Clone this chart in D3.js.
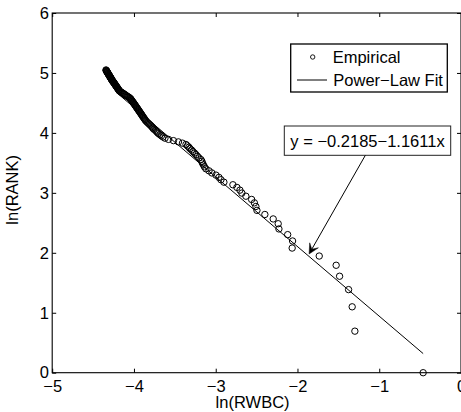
<!DOCTYPE html>
<html lang="en">
<head>
<meta charset="utf-8">
<script src="https://d3js.org/d3.v7.min.js"></script>
<title>ln(RANK) vs ln(RWBC)</title>
<style>
  body { margin: 0; background: #fff; }
  svg text { font-family: "Liberation Sans", Arial, Helvetica, sans-serif; font-size: 16.5px; fill: #000; }
</style>
</head>
<body>
<div id="chart"></div>
<script>
// empirical points: ln(RWBC) on x, ln(RANK) on y (rank 1 .. 156)
var lnRWBC = [
  -0.463, -1.298, -1.331, -1.375, -1.485, -1.527, -1.734, -2.065, -2.060, -2.120,
  -2.227, -2.236, -2.297, -2.399, -2.496, -2.509, -2.527, -2.561, -2.631, -2.680,
  -2.704, -2.741, -2.790, -2.900, -2.936, -2.961, -2.997, -3.047, -3.082, -3.120,
  -3.138, -3.150, -3.163, -3.169, -3.181, -3.205, -3.224, -3.242, -3.260, -3.279,
  -3.295, -3.315, -3.328, -3.346, -3.364, -3.407, -3.456, -3.517, -3.578, -3.621,
  -3.645, -3.664, -3.682, -3.700, -3.713, -3.725, -3.737, -3.756, -3.768, -3.774,
  -3.787, -3.798, -3.811, -3.823, -3.835, -3.847, -3.857, -3.864, -3.872, -3.879,
  -3.886, -3.894, -3.900, -3.906, -3.913, -3.919, -3.927, -3.933, -3.939, -3.946,
  -3.952, -3.958, -3.964, -3.971, -3.976, -3.982, -3.988, -3.994, -4.000, -4.006,
  -4.011, -4.017, -4.023, -4.029, -4.034, -4.039, -4.045, -4.053, -4.064, -4.075,
  -4.086, -4.097, -4.108, -4.116, -4.127, -4.138, -4.149, -4.159, -4.168, -4.178,
  -4.183, -4.186, -4.191, -4.196, -4.200, -4.204, -4.208, -4.213, -4.217, -4.221,
  -4.225, -4.230, -4.233, -4.238, -4.241, -4.246, -4.249, -4.254, -4.258, -4.262,
  -4.267, -4.269, -4.273, -4.276, -4.279, -4.282, -4.286, -4.289, -4.292, -4.296,
  -4.298, -4.301, -4.304, -4.308, -4.311, -4.314, -4.317, -4.319, -4.323, -4.325,
  -4.329, -4.331, -4.334, -4.337, -4.340, -4.342
];
var lnRank = [
  0.000, 0.693, 1.099, 1.386, 1.609, 1.792, 1.946, 2.079, 2.197, 2.303,
  2.398, 2.485, 2.565, 2.639, 2.708, 2.773, 2.833, 2.890, 2.944, 2.996,
  3.045, 3.091, 3.135, 3.178, 3.219, 3.258, 3.296, 3.332, 3.367, 3.401,
  3.434, 3.466, 3.497, 3.526, 3.555, 3.584, 3.611, 3.638, 3.664, 3.689,
  3.714, 3.738, 3.761, 3.784, 3.807, 3.829, 3.850, 3.871, 3.892, 3.912,
  3.932, 3.951, 3.970, 3.989, 4.007, 4.025, 4.043, 4.060, 4.078, 4.094,
  4.111, 4.127, 4.143, 4.159, 4.174, 4.190, 4.205, 4.220, 4.234, 4.248,
  4.263, 4.277, 4.290, 4.304, 4.317, 4.331, 4.344, 4.357, 4.369, 4.382,
  4.394, 4.407, 4.419, 4.431, 4.443, 4.454, 4.466, 4.477, 4.489, 4.500,
  4.511, 4.522, 4.533, 4.543, 4.554, 4.564, 4.575, 4.585, 4.595, 4.605,
  4.615, 4.625, 4.635, 4.644, 4.654, 4.663, 4.673, 4.682, 4.691, 4.700,
  4.710, 4.718, 4.727, 4.736, 4.745, 4.754, 4.762, 4.771, 4.779, 4.787,
  4.796, 4.804, 4.812, 4.820, 4.828, 4.836, 4.844, 4.852, 4.860, 4.868,
  4.875, 4.883, 4.890, 4.898, 4.905, 4.913, 4.920, 4.927, 4.934, 4.942,
  4.949, 4.956, 4.963, 4.970, 4.977, 4.984, 4.990, 4.997, 5.004, 5.011,
  5.017, 5.024, 5.030, 5.037, 5.043, 5.050
];

// power-law fit line end points
var fitX = [-4.2, -0.463];
var fitY = [4.658, 0.319];

var xTicks = [-5, -4, -3, -2, -1, 0];
var yTicks = [0, 1, 2, 3, 4, 5, 6];

var fitLabel = "y = \u22120.2185\u22121.1611x";
// arrow from the label box down to the fit line (data coords)
var arrowFrom = [-1.17, 3.626];
var arrowTo = [-1.858, 1.98];

var W = 461, H = 412;
var pL = 52.2, pR = 461, pT = 13, pB = 372.7;

var svg = d3.select("#chart").append("svg")
    .attr("width", W)
    .attr("height", H);

var x = d3.scaleLinear().domain([-5, 0]).range([pL, pR]);
var y = d3.scaleLinear().domain([0, 6]).range([pB, pT]);

var fmt = function(d) { return d3.format("d")(d).replace("-", "\u2212"); };

// axes, ticks pointing inward
svg.append("g")
    .attr("transform", "translate(0," + pB + ")")
    .call(d3.axisBottom(x).tickValues(xTicks).tickSizeInner(-4).tickSizeOuter(0).tickPadding(7.6).tickFormat(fmt));
svg.append("g")
    .attr("transform", "translate(" + pL + ",0)")
    .call(d3.axisLeft(y).tickValues(yTicks).tickSizeInner(-4).tickSizeOuter(0).tickPadding(3.2).tickFormat(fmt));
svg.append("g")
    .attr("transform", "translate(0," + pT + ")")
    .call(d3.axisTop(x).tickValues(xTicks).tickSizeInner(-4).tickSizeOuter(0).tickFormat(""));
svg.append("g")
    .attr("transform", "translate(" + pR + ",0)")
    .call(d3.axisRight(y).tickValues(yTicks).tickSizeInner(-4).tickSizeOuter(0).tickFormat(""));

svg.selectAll(".domain").remove();
svg.selectAll(".tick line").attr("stroke", "#000");
svg.selectAll(".tick text").attr("font-size", "16.5px").attr("font-family", "Liberation Sans, Arial, sans-serif");

svg.append("rect")
    .attr("x", pL).attr("y", pT)
    .attr("width", pR - pL).attr("height", pB - pT)
    .attr("fill", "none").attr("stroke", "#000").attr("stroke-width", 1.1);

// fit line
svg.append("line")
    .attr("x1", x(fitX[0])).attr("y1", y(fitY[0]))
    .attr("x2", x(fitX[1])).attr("y2", y(fitY[1]))
    .attr("stroke", "#000").attr("stroke-width", 1);

// empirical points
svg.append("g").selectAll("circle")
    .data(d3.range(lnRWBC.length))
    .enter().append("circle")
    .attr("cx", function(i) { return x(lnRWBC[i]); })
    .attr("cy", function(i) { return y(lnRank[i]); })
    .attr("r", 3.2)
    .attr("fill", "none")
    .attr("stroke", "#000")
    .attr("stroke-width", 1);

// axis labels
svg.append("text")
    .attr("x", (pL + pR) / 2 - 4).attr("y", 408)
    .attr("text-anchor", "middle")
    .text("ln(RWBC)");
svg.append("text")
    .attr("transform", "translate(18," + ((pT + pB) / 2 - 3) + ") rotate(-90)")
    .attr("text-anchor", "middle")
    .text("ln(RANK)");

// legend
var lg = svg.append("g");
lg.append("rect")
    .attr("x", 290.7).attr("y", 44).attr("width", 156.6).attr("height", 48)
    .attr("fill", "#fff").attr("stroke", "#000").attr("stroke-width", 1.3);
lg.append("circle")
    .attr("cx", 312.7).attr("cy", 57).attr("r", 2.2)
    .attr("fill", "none").attr("stroke", "#000").attr("stroke-width", 0.9);
lg.append("text").attr("x", 332.7).attr("y", 63).text("Empirical");
lg.append("line")
    .attr("x1", 297).attr("x2", 327).attr("y1", 80).attr("y2", 80)
    .attr("stroke", "#000").attr("stroke-width", 1);
lg.append("text").attr("x", 333.3).attr("y", 86).text("Power\u2212Law Fit");

// annotation box + arrow
svg.append("rect")
    .attr("x", 284.3).attr("y", 126).attr("width", 166.4).attr("height", 29.3)
    .attr("fill", "#fff").attr("stroke", "#222").attr("stroke-width", 1);
svg.append("text")
    .attr("x", 367.5).attr("y", 147)
    .attr("text-anchor", "middle")
    .text(fitLabel);

var ax0 = x(arrowFrom[0]), ay0 = y(arrowFrom[1]);
var ax1 = x(arrowTo[0]), ay1 = y(arrowTo[1]);
var ang = Math.atan2(ay1 - ay0, ax1 - ax0);
var hl = 10, hw = 5;
var ux = Math.cos(ang), uy = Math.sin(ang);
svg.append("line")
    .attr("x1", ax0).attr("y1", ay0)
    .attr("x2", ax1 - ux * 5).attr("y2", ay1 - uy * 5)
    .attr("stroke", "#000").attr("stroke-width", 1);
var head = [
  [ax1, ay1],
  [ax1 - ux * hl - uy * hw, ay1 - uy * hl + ux * hw],
  [ax1 - ux * hl * 0.55, ay1 - uy * hl * 0.55],
  [ax1 - ux * hl + uy * hw, ay1 - uy * hl - ux * hw]
];
svg.append("path")
    .attr("d", d3.line()(head) + "Z")
    .attr("fill", "#000").attr("stroke", "#000").attr("stroke-width", 0.5);
</script>
</body>
</html>
